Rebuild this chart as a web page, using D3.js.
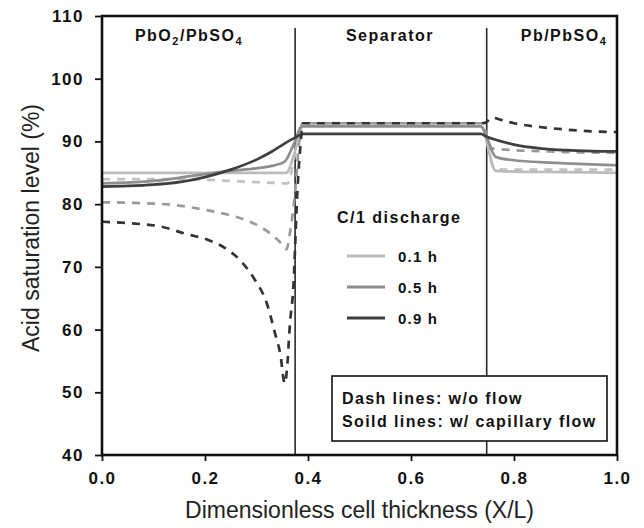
<!DOCTYPE html>
<html>
<head>
<meta charset="utf-8">
<script src="https://cdn.jsdelivr.net/npm/d3@7/dist/d3.min.js"></script>
<style>
  html, body { margin: 0; padding: 0; background: #fff; }
  svg { display: block; font-family: Arial, "Liberation Sans", Helvetica, sans-serif; }
</style>
</head>
<body>
<svg id="chart" width="644" height="528"></svg>
<script>
// ---------------- data ----------------
const xTicks = [0.0, 0.2, 0.4, 0.6, 0.8, 1.0];
const yTicks = [40, 50, 60, 70, 80, 90, 100, 110];
const regionLabels = ["PbO2/PbSO4", "Separator", "Pb/PbSO4"];
const separatorX = [0.375, 0.747];
const legendTimes = ["0.1 h", "0.5 h", "0.9 h"];
const legendTitle = "C/1 discharge";
const noteLines = ["Dash lines: w/o flow", "Soild lines: w/ capillary flow"];

// Solid lines: with capillary flow
const solid01X = [0, 0.1, 0.2, 0.3, 0.358, 0.375, 0.39, 0.5, 0.6, 0.735, 0.765, 0.8, 0.9, 1.0];
const solid01Y = [85.0, 85.0, 85.0, 85.0, 85.0, 88.5, 92.5, 92.5, 92.5, 92.5, 85.3, 85.2, 85.1, 85.0];

const solid05X = [0, 0.1, 0.15, 0.2, 0.25, 0.3, 0.33, 0.355, 0.372, 0.388, 0.5, 0.6, 0.735, 0.765, 0.8, 0.85, 0.9, 1.0];
const solid05Y = [83.3, 83.7, 84.2, 84.8, 85.3, 85.7, 86.1, 86.8, 89.5, 92.4, 92.4, 92.4, 92.4, 87.5, 87.0, 86.7, 86.5, 86.2];

const solid09X = [0, 0.05, 0.1, 0.15, 0.2, 0.25, 0.3, 0.33, 0.355, 0.375, 0.39, 0.5, 0.6, 0.735, 0.747, 0.78, 0.8, 0.85, 0.9, 0.95, 1.0];
const solid09Y = [82.8, 82.9, 83.1, 83.5, 84.3, 85.5, 87.1, 88.4, 89.7, 90.6, 91.2, 91.2, 91.2, 91.2, 90.75, 89.9, 89.5, 88.9, 88.6, 88.45, 88.4];

// Dashed lines: without flow
const dash01X = [0, 0.15, 0.25, 0.33, 0.36, 0.375, 0.39, 0.5, 0.6, 0.737, 0.762, 0.8, 0.9, 1.0];
const dash01Y = [84.0, 84.0, 83.7, 83.4, 83.3, 88.0, 92.9, 92.9, 92.9, 92.9, 85.6, 85.5, 85.5, 85.5];

const dash05X = [0, 0.064, 0.135, 0.2, 0.245, 0.278, 0.317, 0.345, 0.358, 0.366, 0.375, 0.383, 0.39, 0.5, 0.6, 0.737, 0.757, 0.8, 0.85, 0.9, 1.0];
const dash05Y = [80.3, 80.2, 79.9, 79.1, 78.3, 77.5, 75.9, 74.0, 72.8, 76.0, 82.0, 90.0, 92.9, 92.9, 92.9, 92.9, 88.9, 88.6, 88.45, 88.3, 88.2];

const dash09X = [0, 0.064, 0.116, 0.161, 0.206, 0.239, 0.271, 0.297, 0.32, 0.336, 0.346, 0.355, 0.359, 0.365, 0.372, 0.375, 0.378, 0.385, 0.39, 0.5, 0.6, 0.737, 0.745, 0.757, 0.78, 0.8, 0.85, 0.9, 0.95, 1.0];
const dash09Y = [77.2, 76.9, 76.4, 75.3, 74.3, 73.0, 70.8, 67.9, 64.2, 59.4, 56.2, 51.4, 53.5, 61.0, 67.4, 73.2, 79.6, 89.0, 92.9, 92.9, 92.9, 92.9, 93.0, 93.8, 93.3, 92.9, 92.3, 91.9, 91.6, 91.5];

// ---------------- layout ----------------
const svg = d3.select("#chart");
const x = d3.scaleLinear().domain([0, 1]).range([102, 617]);
const y = d3.scaleLinear().domain([40, 110]).range([455, 16]);

const cLight = "#bcbcbc", cMed = "#8e8e8e", cDark = "#3f3f3f";
const dLight = "#c2c2c2", dMed = "#9a9a9a", dDark = "#333333";

const boldFont = 'Arial, "Liberation Sans", sans-serif';

// separators
svg.selectAll("line.sep").data(separatorX).enter().append("line")
  .attr("class", "sep")
  .attr("x1", d => x(d)).attr("x2", d => x(d))
  .attr("y1", 28).attr("y2", y(40))
  .attr("stroke", "#2a2a2a").attr("stroke-width", 1.6);

// series
const line = d3.line().x(d => x(d[0])).y(d => y(d[1])).curve(d3.curveMonotoneX);
const zip = (a, b) => a.map((v, i) => [v, b[i]]);

const series = [
  { xs: dash01X, ys: dash01Y, color: dLight, dash: "8,7" },
  { xs: dash05X, ys: dash05Y, color: dMed, dash: "8,7" },
  { xs: solid01X, ys: solid01Y, color: cLight, dash: null },
  { xs: solid05X, ys: solid05Y, color: cMed, dash: null },
  { xs: solid09X, ys: solid09Y, color: cDark, dash: null },
  { xs: dash09X, ys: dash09Y, color: dDark, dash: "8,7" }
];

svg.selectAll("path.series").data(series).enter().append("path")
  .attr("class", "series")
  .attr("d", d => line(zip(d.xs, d.ys)))
  .attr("fill", "none")
  .attr("stroke", d => d.color)
  .attr("stroke-width", 2.7)
  .attr("stroke-dasharray", d => d.dash);

// axes
const yAxis = d3.axisLeft(y).tickValues(yTicks).tickSize(7).tickSizeOuter(0).tickPadding(11).tickFormat(d3.format("d"));
const xAxis = d3.axisBottom(x).tickValues(xTicks).tickSize(6).tickSizeOuter(0).tickPadding(11).tickFormat(d3.format(".1f"));

const gy = svg.append("g").attr("transform", `translate(${x(0)},0)`).call(yAxis);
const gx = svg.append("g").attr("transform", `translate(0,${y(40)})`).call(xAxis);
[gy, gx].forEach(g => {
  g.select(".domain").remove();
  g.selectAll(".tick line").attr("stroke", "#111").attr("stroke-width", 1.8);
  g.selectAll(".tick text")
    .attr("fill", "#111")
    .style("font-family", boldFont)
    .style("font-size", "17px")
    .style("font-weight", "bold")
    .style("letter-spacing", "1.5px");
});

// frame
svg.append("rect")
  .attr("x", x(0)).attr("y", y(110))
  .attr("width", x(1) - x(0)).attr("height", y(40) - y(110))
  .attr("fill", "none").attr("stroke", "#111").attr("stroke-width", 2.6);

// region labels
const regionPos = [189, 390, 564];
const labelG = svg.append("g")
  .style("font-family", boldFont).style("font-size", "16px").style("font-weight", "bold")
  .style("letter-spacing", "1.5px").attr("fill", "#111");

function addChem(t, cx) {
  const txt = labelG.append("text").attr("x", cx).attr("y", 41).attr("text-anchor", "middle");
  const parts = t.match(/[A-Za-z\/]+|\d+/g);
  let prevSub = false;
  parts.forEach(p => {
    if (/^\d+$/.test(p)) {
      txt.append("tspan").text(p).attr("font-size", "11px").attr("dy", 4);
      prevSub = true;
    } else {
      const ts = txt.append("tspan").text(p);
      if (prevSub) ts.attr("dy", -4);
      prevSub = false;
    }
  });
}
regionLabels.forEach((t, i) => {
  if (t === "Separator") {
    labelG.append("text").attr("x", regionPos[i]).attr("y", 41).attr("text-anchor", "middle").text(t);
  } else {
    addChem(t, regionPos[i]);
  }
});

// legend (C/1 discharge)
const lg = svg.append("g");
lg.append("text").attr("x", 337).attr("y", 223)
  .style("font-family", boldFont).style("font-size", "16px").style("font-weight", "bold")
  .style("letter-spacing", "1.5px").attr("fill", "#111").text(legendTitle);
const legColors = [cLight, cMed, cDark];
const legY = [256, 287, 318];
legendTimes.forEach((t, i) => {
  lg.append("line").attr("x1", 347).attr("x2", 385).attr("y1", legY[i]).attr("y2", legY[i])
    .attr("stroke", legColors[i]).attr("stroke-width", 3);
  lg.append("text").attr("x", 398).attr("y", legY[i] + 6)
    .style("font-family", boldFont).style("font-size", "15px").style("font-weight", "bold")
    .style("letter-spacing", "1.2px").attr("fill", "#111").text(t);
});

// note box
const nb = svg.append("g");
nb.append("rect").attr("x", 332).attr("y", 376).attr("width", 275).attr("height", 65)
  .attr("fill", "#fff").attr("stroke", "#111").attr("stroke-width", 1.6);
noteLines.forEach((t, i) => {
  nb.append("text").attr("x", 342).attr("y", 404 + i * 23)
    .style("font-family", boldFont).style("font-size", "16px").style("font-weight", "bold")
    .style("letter-spacing", "1.4px").attr("fill", "#111").text(t);
});

// axis titles
svg.append("text").attr("x", x(0.5)).attr("y", 518).attr("text-anchor", "middle")
  .style("font-family", boldFont).style("font-size", "23px").attr("fill", "#222")
  .text("Dimensionless cell thickness (X/L)");
svg.append("text").attr("transform", `translate(39,228) rotate(-90)`)
  .attr("text-anchor", "middle")
  .style("font-family", boldFont).style("font-size", "23px").attr("fill", "#222")
  .text("Acid saturation level (%)");
</script>
</body>
</html>
